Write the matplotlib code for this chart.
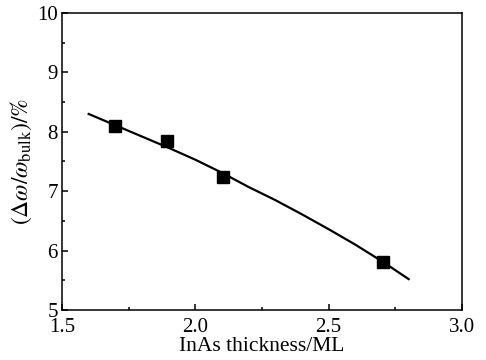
import matplotlib
matplotlib.use("Agg")
import matplotlib.pyplot as plt
from matplotlib.ticker import MultipleLocator

# measured points
thick = [1.70, 1.895, 2.105, 2.705]
shift = [8.10, 7.85, 7.24, 5.80]

# fitted curve
fit_x = [1.6, 1.7, 1.8, 1.9, 2.0, 2.1, 2.2, 2.3, 2.4, 2.5, 2.6, 2.7, 2.8]
fit_y = [8.30, 8.11, 7.92, 7.73, 7.53, 7.31, 7.07, 6.85, 6.61, 6.36, 6.10, 5.82, 5.52]

plt.rcParams["font.family"] = ["Liberation Serif", "DejaVu Serif"]
plt.rcParams["mathtext.fontset"] = "stix"

fig = plt.figure(figsize=(4.86, 3.6), dpi=100)
ax = fig.add_axes([0.1276, 0.1389, 0.823, 0.825])

ax.plot(fit_x, fit_y, color="black", lw=1.6, zorder=2)
ax.plot(thick, shift, "s", color="black", ms=8.5, zorder=3)

ax.set_xlim(1.5, 3.0)
ax.set_ylim(5, 10)
ax.xaxis.set_major_locator(MultipleLocator(0.5))
ax.xaxis.set_minor_locator(MultipleLocator(0.25))
ax.yaxis.set_major_locator(MultipleLocator(1))
ax.yaxis.set_minor_locator(MultipleLocator(0.5))
ax.xaxis.set_major_formatter(matplotlib.ticker.FormatStrFormatter("%.1f"))
ax.tick_params(which="both", direction="in", top=False, right=False, labelsize=15, width=1.1)
ax.tick_params(which="major", length=4.5)
ax.tick_params(which="minor", length=2.5)
ax.tick_params(axis="x", pad=5.5)
ax.tick_params(axis="y", pad=3)
for s in ax.spines.values():
    s.set_linewidth(1.1)

ax.set_xlabel("InAs thickness/ML", fontsize=15.5, labelpad=0.5)
ax.set_ylabel(r"$(\Delta\omega/\omega_{\rm bulk})/\%$", fontsize=17, labelpad=2)

fig.savefig("out.png", dpi=100)
